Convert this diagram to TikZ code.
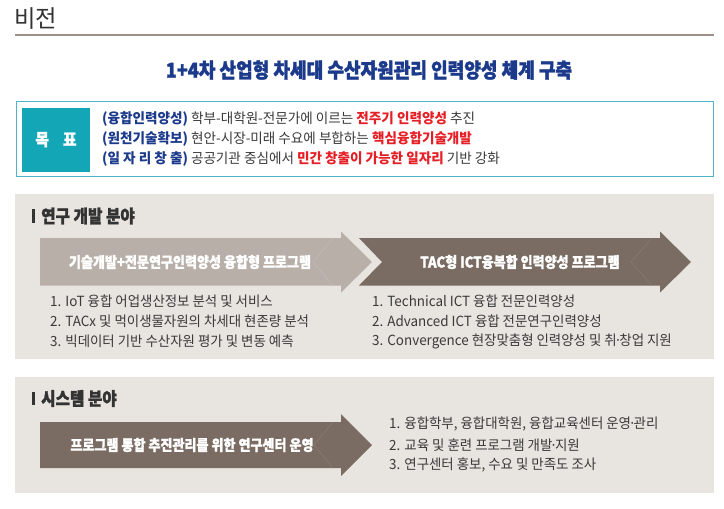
\documentclass[tikz,border=0pt]{standalone}
\usepackage{fontspec}
\setmainfont{Noto Sans CJK KR}
\newfontfamily\krbody[FakeStretch=0.96]{Noto Sans CJK KR}
\newfontfamily\krgoal[FakeStretch=0.97]{Noto Sans CJK KR}
\newfontfamily\krhead[FakeStretch=0.87,BoldFeatures={FakeBold=1.4}]{Noto Sans CJK KR}
\newfontfamily\krtitle[FakeStretch=0.88,BoldFeatures={FakeBold=1.6}]{Noto Sans CJK KR}
\definecolor{panelbg}{HTML}{E8E4E0}
\definecolor{arrlight}{HTML}{B8AFA9}
\definecolor{arrlightln}{HTML}{C4BCB6}
\definecolor{arrdark}{HTML}{7A6C63}
\definecolor{arrdarkln}{HTML}{887B72}
\definecolor{rulec}{HTML}{9C9088}
\definecolor{darktxt}{HTML}{333333}
\definecolor{bodytxt}{HTML}{3A3A3A}
\definecolor{navy}{HTML}{1C3A8C}
\definecolor{redtxt}{HTML}{E61E25}
\definecolor{tealfill}{HTML}{13A6B6}
\definecolor{tealline}{HTML}{4DB6C4}
\tikzset{
  listline/.style={anchor=west, inner sep=0pt, text=bodytxt, font=\krbody\fontsize{14}{16}\selectfont},
  goalline/.style={anchor=west, inner sep=0pt, text=bodytxt, font=\krgoal\fontsize{14}{16}\selectfont},
  arrowtext/.style={inner sep=0pt, text=white, font=\krhead\bfseries\fontsize{15}{17}\selectfont},
  headtext/.style={anchor=west, inner sep=0pt, text=darktxt, font=\krhead\bfseries\fontsize{18}{20}\selectfont},
  headbar/.style={fill=darktxt},
  bevel/.style={line width=0.5pt}
}
\newcommand{\nv}[1]{\textcolor{navy}{\bfseries #1}}
\newcommand{\rd}[1]{\textcolor{redtxt}{\bfseries #1}}
\newcommand{\mdot}{\kern-2.5pt·\kern-2.5pt}
\begin{document}
\begin{tikzpicture}[x=1pt,y={(0pt,-1pt)}]
\useasboundingbox (0,0) rectangle (724,509);
\fill[white] (0,0) rectangle (724,509);

% heading
\node[anchor=west, inner sep=0pt, text=darktxt, font=\krgoal\fontsize{24}{26}\selectfont] (vision) at (14,19) {비전};
\draw[rulec, line width=2.2pt] (15,35) -- (714,35);

% main title
\node[inner sep=0pt, text=navy, font=\krtitle\bfseries\fontsize{20.5}{22}\selectfont] (title) at (369,70) {1+4차 산업형 차세대 수산자원관리 인력양성 체계 구축};

% goal box
\draw[tealline, line width=1.6pt] (16.5,101.5) rectangle (713.5,176.5);
\node[fill=tealfill, minimum width=68pt, minimum height=64pt, inner sep=0pt, text=white, font=\krhead\bfseries\fontsize{17}{19}\selectfont] (goal) at (56,139.7) {목\hspace{14pt}표};
\node[goalline] (g1) at (102,118.5) {\nv{(융합인력양성)} 학부-대학원-전문가에 이르는 \rd{전주기 인력양성} 추진};
\node[goalline] (g2) at (102,139) {\nv{(원천기술확보)} 현안-시장-미래 수요에 부합하는 \rd{핵심융합기술개발}};
\node[goalline] (g3) at (102,159.5) {\nv{(일 자 리 창 출)} 공공기관 중심에서 \rd{민간 창출이 가능한 일자리} 기반 강화};

% panel 1
\fill[panelbg] (15,194) rectangle (714,359);
\fill[headbar] (32,209) rectangle (34.6,222.5);
\node[headtext] (h1) at (41,216) {연구 개발 분야};

\fill[arrlight] (40,238) -- (341,238) -- (341,231.5) -- (372,262) -- (341,292.5) -- (341,285.5) -- (40,285.5) -- cycle;
\draw[arrlightln, bevel] (333,238) -- (313,262) -- (333,285.5);
\node[arrowtext] (a1) at (190,262) {기술개발+전문연구인력양성 융합형 프로그램};

\fill[arrdark] (359,238) -- (660,238) -- (660,231.5) -- (691,262) -- (660,292.5) -- (660,285.5) -- (359,285.5) -- (382,262) -- cycle;
\draw[arrdarkln, bevel] (652,238) -- (631,262) -- (652,285.5);
\node[arrowtext] (a2) at (520,262) {TAC형 ICT융복합 인력양성 프로그램};

\node[listline] (l1) at (50,301) {1. IoT 융합 어업생산정보 분석 및 서비스};
\node[listline] (l2) at (50,321) {2. TACx 및 먹이생물자원의 차세대 현존량 분석};
\node[listline] (l3) at (50,341) {3. 빅데이터 기반 수산자원 평가 및 변동 예측};
\node[listline] (r1) at (372,301) {1. Technical ICT 융합 전문인력양성};
\node[listline] (r2) at (372,321) {2. Advanced ICT 융합 전문연구인력양성};
\node[listline] (r3) at (372,341) {3. Convergence 현장맞춤형 인력양성 및 취\mdot 창업 지원};

% panel 2
\fill[panelbg] (15,376.5) rectangle (714,493);
\fill[headbar] (32,391.5) rectangle (34.6,405);
\node[headtext] (h2) at (41,398.5) {시스템 분야};

\fill[arrdark] (40,422) -- (341,422) -- (341,414) -- (372,445) -- (341,476) -- (341,468) -- (40,468) -- cycle;
\draw[arrdarkln, bevel] (333,422) -- (314,445) -- (333,468);
\node[arrowtext] (a3) at (192,445) {프로그램 통합 추진관리를 위한 연구센터 운영};

\node[listline] (s1) at (389,424) {1. 융합학부, 융합대학원, 융합교육센터 운영\mdot 관리};
\node[listline] (s2) at (389,445) {2. 교육 및 훈련 프로그램 개발\mdot 지원};
\node[listline] (s3) at (389,465) {3. 연구센터 홍보, 수요 및 만족도 조사};
\end{tikzpicture}
\end{document}
